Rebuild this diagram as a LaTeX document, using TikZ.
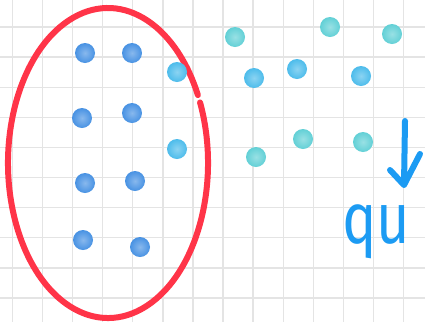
\documentclass[tikz,border=0pt]{standalone}
\usepackage{fontspec}
\setsansfont{Fira Sans}
\usetikzlibrary{positioning}

\definecolor{ringred}{HTML}{FF3448}
\definecolor{dotblue}{HTML}{4892E3}
\definecolor{dotsky}{HTML}{4DBCEB}
\definecolor{dotteal}{HTML}{62D0D6}
\definecolor{penblue}{HTML}{1C9BF3}
\definecolor{gridgray}{HTML}{E4E4E4}

\begin{document}
\begin{tikzpicture}[x=1pt, y=-1pt]
    \useasboundingbox[fill=white] (0,0) rectangle (425,322);

    % Grid paper
    \foreach \k in {0,...,13}
        \draw[gridgray, line width=1.4] ({12.3+30.1*\k},0) -- ({12.3+30.1*\k},322);
    \foreach \k in {0,...,9}
        \draw[gridgray, line width=1.4] (0,{27+30.1*\k}) -- (425,{27+30.1*\k});

    % Red loop round the left group, with a small gap on the right
    \coordinate (loop centre) at (108,163);
    \draw[ringred, line width=6, line cap=round]
        ([shift={(-23:100 and 155)}]loop centre)
        arc[start angle=-23, end angle=334, x radius=100, y radius=155];

    % Dots inside the loop
    \foreach \px/\py in {85/53, 132/53, 82/118, 132/113, 85/183, 135/181, 83/240, 140/247}
        \shade[inner color=dotblue!65!white, outer color=dotblue] (\px,\py) circle[radius=10];

    % Dots outside, sky blue
    \foreach \px/\py in {177/72, 177/149, 254/78, 297/69, 361/76}
        \shade[inner color=dotsky!65!white, outer color=dotsky] (\px,\py) circle[radius=10];

    % Dots outside, teal
    \foreach \px/\py in {235/37, 330/27, 392/34, 256/157, 303/139, 363/142}
        \shade[inner color=dotteal!65!white, outer color=dotteal] (\px,\py) circle[radius=10];

    % Arrow and label
    \coordinate (arrow top) at (405,121);
    \coordinate (arrow tip) at (404,185);
    \coordinate (barb left) at (390,170);
    \coordinate (barb right) at (420,154);
    \draw[penblue, line width=6, line cap=round, line join=round]
        (arrow top) -- (arrow tip) (barb left) -- (arrow tip) -- (barb right);
    \node[penblue, font=\sffamily\fontsize{72}{72}\selectfont, anchor=base, inner sep=0pt]
        (qu label) at (376,243) {\scalebox{0.8}[1]{qu}};

\end{tikzpicture}
\end{document}
